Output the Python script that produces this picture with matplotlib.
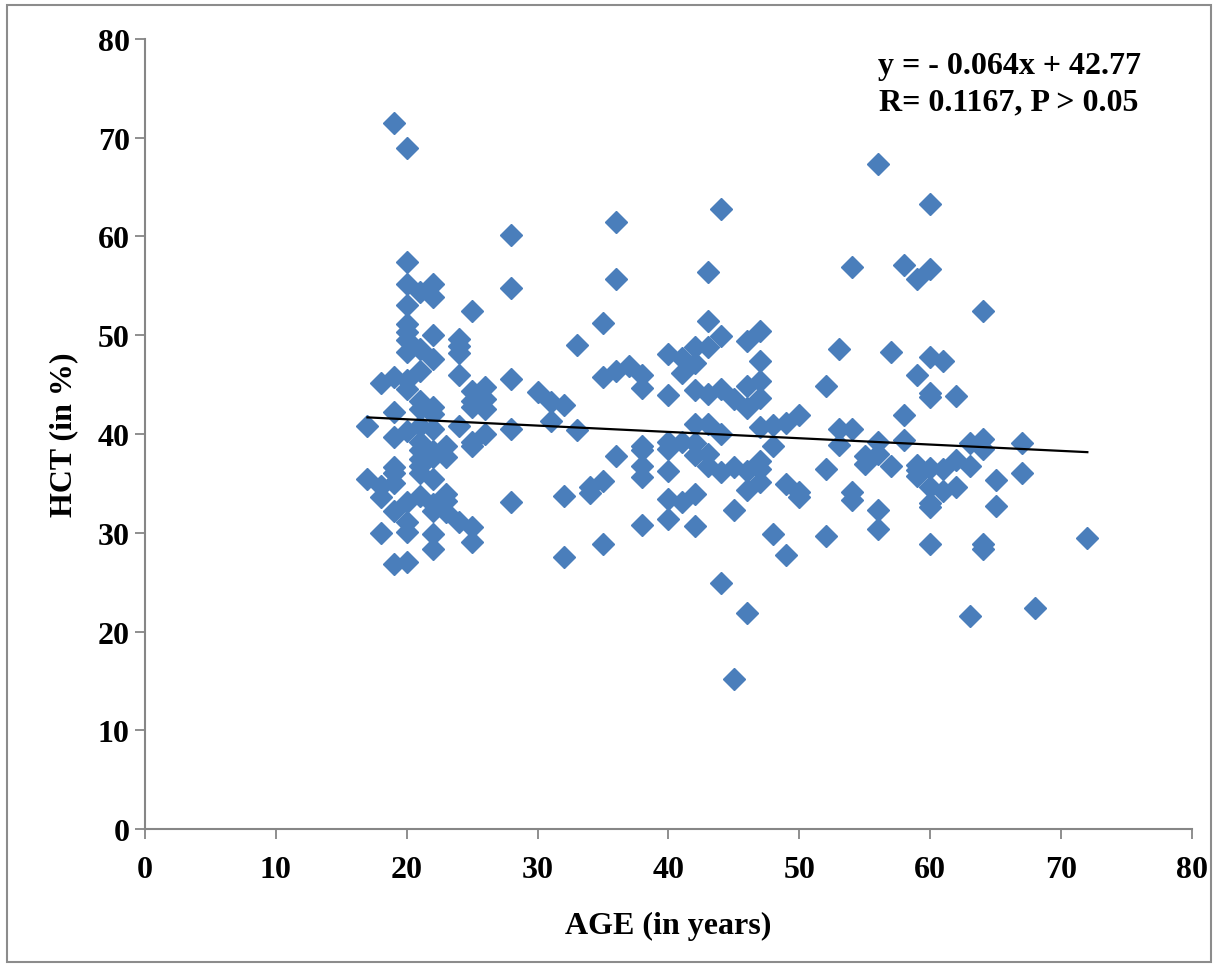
import matplotlib
matplotlib.use("Agg")
import matplotlib.pyplot as plt
from matplotlib.patches import Rectangle
import numpy as np

# ages and HCT values, grouped by age
points = {
    17: [40.8, 35.4],
    18: [45.2, 34.7, 33.6, 30.0],
    19: [71.5, 45.8, 42.2, 39.7, 36.7, 36.0, 35.0, 32.2, 26.8],
    20: [69.0, 57.4, 55.2, 53.1, 51.1, 50.3, 49.5, 48.3, 45.5, 44.6, 40.3, 33.1, 31.1, 30.1, 27.0],
    21: [54.4, 48.6, 46.4, 43.3, 42.5, 40.8, 39.2, 38.4, 37.5, 36.8, 36.0, 33.7],
    22: [55.2, 53.9, 50.0, 47.6, 42.7, 42.0, 40.5, 38.3, 37.7, 35.4, 32.9, 32.2, 29.9, 28.4],
    23: [38.8, 37.7, 33.9, 33.2, 32.1],
    24: [49.6, 48.9, 48.2, 46.0, 40.8, 31.1],
    25: [52.5, 44.4, 43.3, 42.7, 39.2, 38.8, 30.6, 29.1],
    26: [44.8, 43.5, 42.5, 40.0],
    28: [60.2, 54.8, 45.6, 40.5, 33.1],
    30: [44.3],
    31: [43.2, 41.3],
    32: [42.9, 33.7, 27.5],
    33: [49.0, 40.4],
    34: [34.6, 34.0],
    35: [51.2, 45.8, 35.2, 28.9],
    36: [61.5, 55.7, 46.4, 37.8],
    37: [46.9],
    38: [46.0, 44.7, 38.8, 38.4, 36.8, 35.6, 30.8],
    40: [48.1, 43.9, 39.2, 38.5, 36.3, 33.4, 31.4],
    41: [47.7, 46.2, 39.2, 33.1],
    42: [48.8, 47.2, 44.5, 41.0, 39.1, 37.9, 33.9, 30.7],
    43: [56.4, 51.4, 48.8, 44.1, 41.0, 38.0, 36.8],
    44: [62.8, 49.9, 44.6, 40.0, 36.2, 24.9],
    45: [43.5, 36.7, 32.3, 15.2],
    46: [49.4, 44.9, 42.6, 36.3, 34.3, 21.9],
    47: [50.4, 47.4, 45.4, 43.6, 40.7, 37.3, 36.5, 35.1],
    48: [40.9, 38.8, 29.9],
    49: [41.1, 34.9, 27.7],
    50: [41.9, 34.1, 33.6],
    52: [44.9, 36.5, 29.7],
    53: [48.6, 40.5, 38.9],
    54: [56.9, 40.5, 34.1, 33.3],
    55: [37.8, 37.0],
    56: [67.3, 39.2, 38.0, 32.3, 30.4],
    57: [48.3, 36.8],
    58: [57.1, 41.9, 39.4],
    59: [55.7, 46.0, 36.9, 36.4, 35.7],
    60: [63.3, 56.7, 47.8, 44.2, 43.7, 36.6, 34.6, 33.0, 32.6, 28.9],
    61: [47.4, 36.5, 34.2],
    62: [43.8, 37.4, 34.6],
    63: [39.1, 36.8, 21.6],
    64: [52.5, 39.5, 38.5, 28.9, 28.4],
    65: [35.3, 32.7],
    67: [39.1, 36.0],
    68: [22.4],
    72: [29.5],
}
age = [a for a, vals in points.items() for v in vals]
hct = [v for a, vals in points.items() for v in vals]

slope = -0.064
intercept = 42.77
fit_range = [17, 72]

fig = plt.figure(figsize=(12.18, 9.70), dpi=100)
ax = fig.add_axes([0.119, 0.1443, 0.8597, 0.8145])

ax.plot(age, hct, linestyle="none", marker="D", ms=10.8, color="#4a7ebb",
        markeredgecolor="#4a7ebb", zorder=2)
fx = np.array(fit_range)
ax.plot(fx, slope * fx + intercept, color="black", lw=1.6, zorder=3)

ax.set_xlim(0, 80)
ax.set_ylim(0, 80)
ax.set_xticks(range(0, 81, 10))
ax.set_yticks(range(0, 81, 10))

for s in ["top", "right"]:
    ax.spines[s].set_visible(False)
for s in ["left", "bottom"]:
    ax.spines[s].set_color("#868686")
    ax.spines[s].set_linewidth(1.5)

ax.tick_params(direction="out", length=7, width=1.3, color="#868686")
ax.tick_params(axis="x", pad=12)
ax.tick_params(axis="y", pad=4)
for lab in ax.get_xticklabels() + ax.get_yticklabels():
    lab.set_fontfamily("Liberation Serif")
    lab.set_fontweight("bold")
    lab.set_fontsize(23)

ax.set_xlabel("AGE (in years)", family="Liberation Serif", weight="bold",
              fontsize=23, labelpad=19)
ax.set_ylabel("HCT (in %)", family="Liberation Serif", weight="bold",
              fontsize=23, labelpad=14)

fig.text(1009 / 1218, 1 - 85 / 970, "y = - 0.064x + 42.77\nR= 0.1167, P > 0.05",
         ha="center", va="center", family="Liberation Serif", weight="bold",
         fontsize=23, linespacing=1.35)

fig.patches.append(Rectangle((7 / 1218, 1 - 963 / 970), 1204 / 1218, 957 / 970,
                             transform=fig.transFigure, fill=False,
                             edgecolor="#8c8c8c", lw=1.5))

fig.savefig("out.png", dpi=100)
